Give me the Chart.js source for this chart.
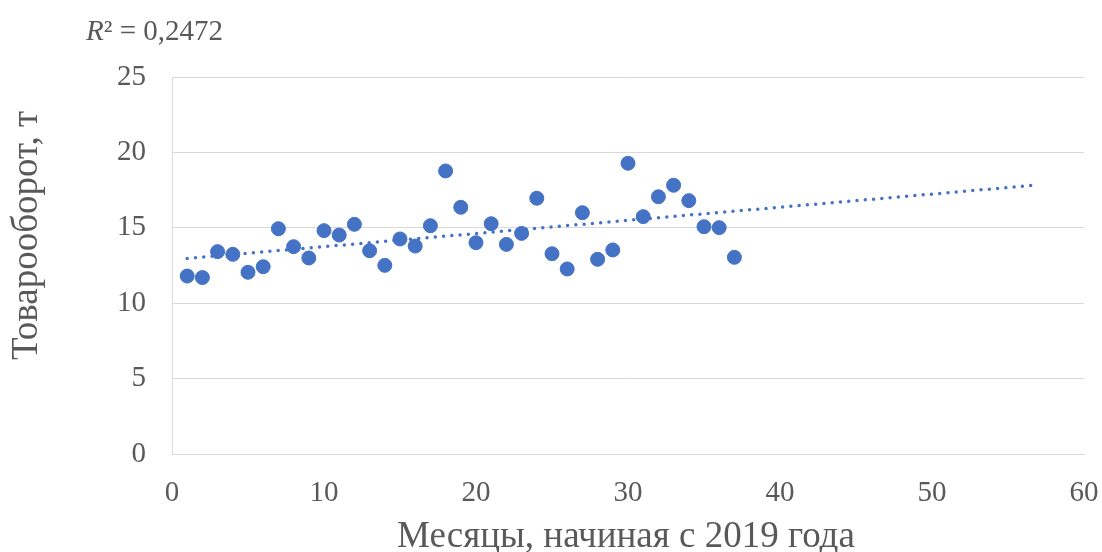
<!DOCTYPE html>
<html>
<head>
<meta charset="utf-8">
<script src="https://cdn.jsdelivr.net/npm/chart.js@4/dist/chart.umd.min.js"></script>
<style>
  html, body { margin: 0; padding: 0; background: #ffffff; }
  #wrap { width: 1102px; height: 552px; }
</style>
</head>
<body>
<div id="wrap"><canvas id="c" width="1102" height="552"></canvas></div>
<script>
// Monthly turnover, tonnes (month 1 = January 2019)
const months = [1,2,3,4,5,6,7,8,9,10,11,12,13,14,15,16,17,18,19,20,21,22,23,24,25,26,27,28,29,30,31,32,33,34,35,36,37];
const turnover = [11.8,11.7,13.42,13.24,12.05,12.42,14.94,13.75,13.0,14.81,14.52,15.23,13.48,12.51,14.26,13.79,15.14,18.77,16.36,14.01,15.27,13.9,14.63,16.96,13.28,12.27,16.0,12.91,13.53,19.28,15.74,17.06,17.82,16.8,15.07,15.01,13.04];
const xTicks = [0,10,20,30,40,50,60];
const yTicks = [0,5,10,15,20,25];
const trendEnd = 57;          // linear trend carried forward to month 57
const r2Label = 'R² = 0,2472';
const xTitle = 'Месяцы, начиная с 2019 года';
const yTitle = 'Товарооборот, т';

// least-squares linear trend through the monthly values
const n = months.length;
const mx = months.reduce((a, b) => a + b, 0) / n;
const my = turnover.reduce((a, b) => a + b, 0) / n;
let sxy = 0, sxx = 0;
for (let i = 0; i < n; i++) { sxy += (months[i] - mx) * (turnover[i] - my); sxx += (months[i] - mx) ** 2; }
const slope = sxy / sxx;
const icpt = my - slope * mx;
const trend = [months[0], trendEnd].map(x => ({ x, y: icpt + slope * x }));

const BLUE = '#4472C4';
const GREY_TEXT = '#595959';
const SERIF = '"Liberation Serif", "Times New Roman", serif';

const textPlugin = {
  id: 'axisText',
  afterDraw(chart) {
    const { ctx } = chart;
    ctx.save();
    ctx.fillStyle = GREY_TEXT;
    ctx.textBaseline = 'alphabetic';
    ctx.textAlign = 'left';
    // x-axis title
    ctx.font = '37px ' + SERIF;
    ctx.fillText(xTitle, 397, 547);
    // y-axis title
    ctx.save();
    ctx.translate(37, 360);
    ctx.rotate(-Math.PI / 2);
    ctx.fillText(yTitle, 0, 0);
    ctx.restore();
    // R² of the trend
    ctx.font = 'italic 29px ' + SERIF;
    ctx.fillText('R', 86, 40);
    const wR = ctx.measureText('R').width;
    ctx.font = '29px ' + SERIF;
    ctx.fillText(r2Label.slice(1), 86 + wR, 40);
    ctx.restore();
  }
};

new Chart(document.getElementById('c'), {
  type: 'scatter',
  data: {
    datasets: [
      {
        label: 'Товарооборот',
        data: months.map((m, i) => ({ x: m, y: turnover[i] })),
        backgroundColor: BLUE,
        borderColor: BLUE,
        borderWidth: 1,
        pointRadius: 7,
        order: 1
      },
      {
        type: 'line',
        label: 'Линейный тренд',
        data: trend,
        borderColor: BLUE,
        borderWidth: 3.5,
        borderDash: [0, 8.3],
        borderCapStyle: 'round',
        pointRadius: 0,
        fill: false,
        order: 2
      }
    ]
  },
  plugins: [textPlugin],
  options: {
    responsive: false,
    animation: false,
    layout: { autoPadding: false, padding: { top: 77, right: 18, left: 0, bottom: 0 } },
    plugins: { legend: { display: false }, tooltip: { enabled: false } },
    scales: {
      x: {
        type: 'linear',
        min: 0, max: 60,
        afterBuildTicks: s => { s.ticks = xTicks.map(v => ({ value: v })); },
        afterFit: s => { s.height = 98; s.paddingLeft = 0; s.paddingRight = 0; },
        grid: { display: false, drawTicks: false },
        border: { display: true, color: '#D9D9D9', width: 1 },
        ticks: { color: GREY_TEXT, font: { family: SERIF, size: 29 }, padding: 22, maxRotation: 0 }
      },
      y: {
        type: 'linear',
        min: 0, max: 25,
        afterBuildTicks: s => { s.ticks = yTicks.map(v => ({ value: v })); },
        afterFit: s => { s.width = 172; s.paddingTop = 0; s.paddingBottom = 0; },
        grid: { color: '#D9D9D9', lineWidth: 1, drawTicks: false },
        border: { display: true, color: '#D9D9D9', width: 1 },
        ticks: { color: GREY_TEXT, font: { family: SERIF, size: 29 }, padding: 26 }
      }
    }
  }
});
</script>
</body>
</html>
